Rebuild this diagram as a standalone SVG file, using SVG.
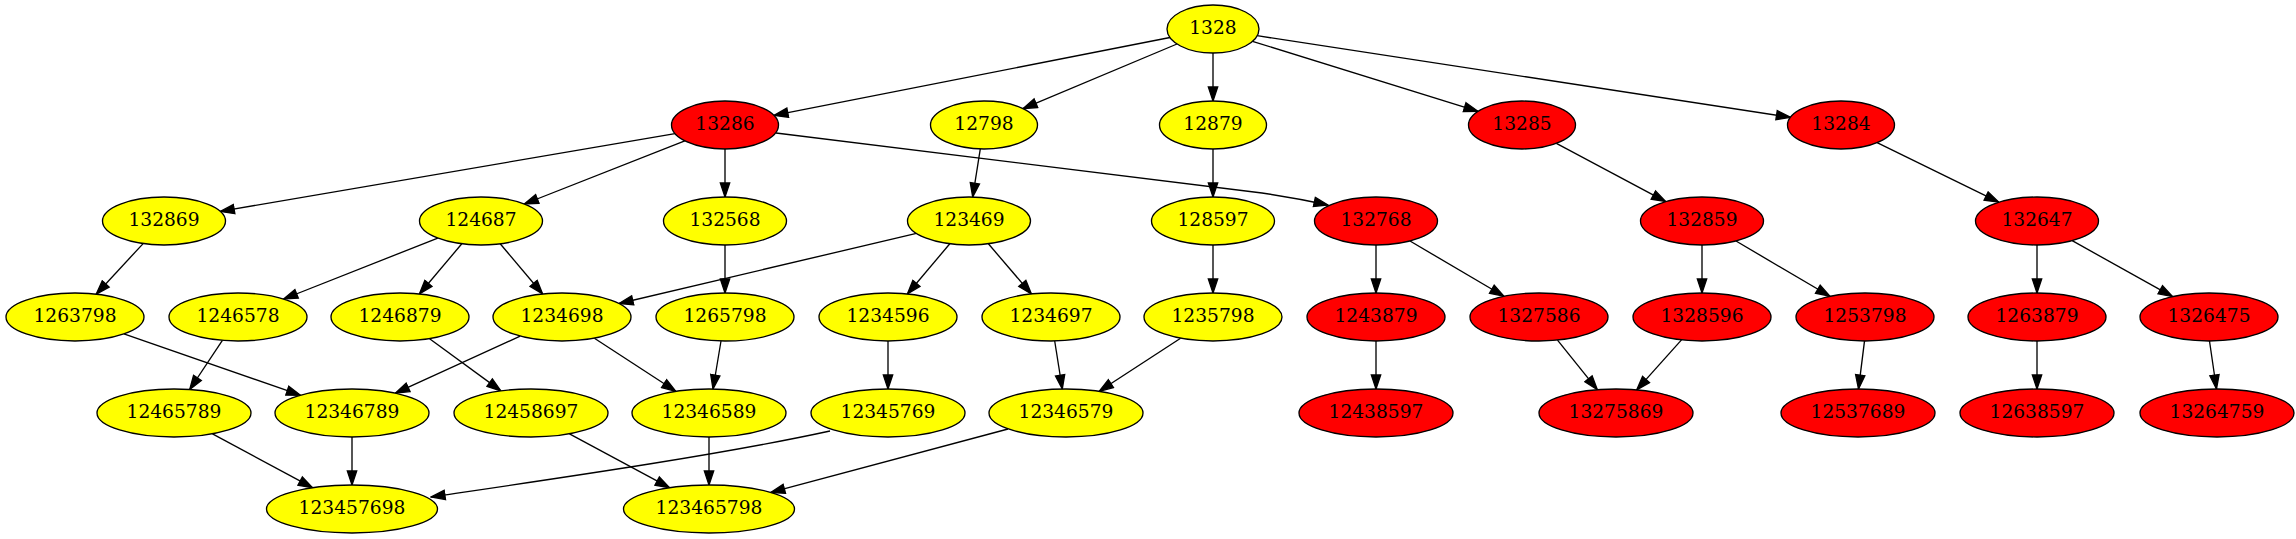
<svg xmlns="http://www.w3.org/2000/svg" width="2296" height="539" viewBox="0 0 2296 539">
<style>
.y{fill:#ffff00;stroke:#000;stroke-width:1.33}
.r{fill:#ff0000;stroke:#000;stroke-width:1.33}
text{font-family:"DejaVu Serif","Liberation Serif",serif;font-size:18.67px;text-anchor:middle;fill:#000}
.e path{fill:none;stroke:#000;stroke-width:1.33;marker-end:url(#a)}
</style>
<defs>
<marker id="a" markerUnits="userSpaceOnUse" markerWidth="16" markerHeight="12" viewBox="-1 -1 16 12" refX="14" refY="5" orient="auto">
<path d="M0,0.33 L14,5 L0,9.67 Z" fill="#000" stroke="#000" stroke-width="1.33"/>
</marker>
</defs>
<rect width="2296" height="539" fill="#fff"/>
<g class="e" id="edges">
<path d="M1170,37.5 L774,115.4"/>
<path d="M1177,44 L1023,108.6"/>
<path d="M1213,53 L1213,101"/>
<path d="M1252.5,41.3 L1478,111.3"/>
<path d="M1257,35.7 L1790.4,117.3"/>
<path d="M675,133.6 L220.3,211.4"/>
<path d="M684.8,140.8 L524.3,204"/>
<path d="M725,149 L725,197"/>
<path d="M776,133 L1262,193 Q1296,198 1328,205"/>
<path d="M980.3,148.9 L972.7,197"/>
<path d="M1213,149 L1213,197"/>
<path d="M1556.4,143.3 L1665.7,201.6"/>
<path d="M1877.1,142.7 L1998.7,202.2"/>
<path d="M143.1,243.6 L96.2,294.2"/>
<path d="M437.8,238.1 L283.6,299"/>
<path d="M461.8,243.8 L419.4,294"/>
<path d="M500.2,243.8 L542.6,294"/>
<path d="M725,245 L725,293"/>
<path d="M916.4,233.4 L619.1,303.5"/>
<path d="M949.8,243.8 L907.4,294"/>
<path d="M988.4,243.8 L1031.4,294"/>
<path d="M1213,245 L1213,293"/>
<path d="M1376,245 L1376,293"/>
<path d="M1410,241 L1503.9,296.3"/>
<path d="M1702,245 L1702,293"/>
<path d="M1736,241 L1829.9,296.3"/>
<path d="M2037,245 L2037,293"/>
<path d="M2072.2,240.7 L2172.5,296.6"/>
<path d="M123.9,333.9 L300.5,395.2"/>
<path d="M222.4,340.4 L189.7,389.5"/>
<path d="M429.6,338.7 L500.9,390.9"/>
<path d="M520.2,336.1 L395.4,393.2"/>
<path d="M594.4,338.2 L675.8,391.3"/>
<path d="M721,341 L713,389"/>
<path d="M888,341 L888,389"/>
<path d="M1054.7,341 L1062.3,389"/>
<path d="M1180.6,338.2 L1099.2,391.3"/>
<path d="M1376,341 L1376,389"/>
<path d="M1557.5,340.1 L1597.3,389.7"/>
<path d="M1681.5,339.9 L1636.7,389.9"/>
<path d="M1864.5,341 L1858.5,389"/>
<path d="M2037,341 L2037,389"/>
<path d="M2209.5,341 L2216.5,389"/>
<path d="M212.5,433.8 L312.5,487.7"/>
<path d="M352,437 L352,485"/>
<path d="M830,431 C720,455 560,478 431,497"/>
<path d="M569.5,433.8 L669.5,487.7"/>
<path d="M709,437 L709,485"/>
<path d="M1008,429 L770.8,492.4"/>
</g>
<g id="n1328"><ellipse class="y" cx="1213" cy="29" rx="46" ry="24"/><text x="1213" y="34">1328</text></g>
<g id="n13286"><ellipse class="r" cx="725" cy="125" rx="53.5" ry="24"/><text x="725" y="130">13286</text></g>
<g id="n12798"><ellipse class="y" cx="984" cy="125" rx="53.5" ry="24"/><text x="984" y="130">12798</text></g>
<g id="n12879"><ellipse class="y" cx="1213" cy="125" rx="53.5" ry="24"/><text x="1213" y="130">12879</text></g>
<g id="n13285"><ellipse class="r" cx="1522" cy="125" rx="53.5" ry="24"/><text x="1522" y="130">13285</text></g>
<g id="n13284"><ellipse class="r" cx="1841" cy="125" rx="53.5" ry="24"/><text x="1841" y="130">13284</text></g>
<g id="n132869"><ellipse class="y" cx="164" cy="221" rx="61.5" ry="24"/><text x="164" y="226">132869</text></g>
<g id="n124687"><ellipse class="y" cx="481" cy="221" rx="61.5" ry="24"/><text x="481" y="226">124687</text></g>
<g id="n132568"><ellipse class="y" cx="725" cy="221" rx="61.5" ry="24"/><text x="725" y="226">132568</text></g>
<g id="n123469"><ellipse class="y" cx="969" cy="221" rx="61.5" ry="24"/><text x="969" y="226">123469</text></g>
<g id="n128597"><ellipse class="y" cx="1213" cy="221" rx="61.5" ry="24"/><text x="1213" y="226">128597</text></g>
<g id="n132768"><ellipse class="r" cx="1376" cy="221" rx="61.5" ry="24"/><text x="1376" y="226">132768</text></g>
<g id="n132859"><ellipse class="r" cx="1702" cy="221" rx="61.5" ry="24"/><text x="1702" y="226">132859</text></g>
<g id="n132647"><ellipse class="r" cx="2037" cy="221" rx="61.5" ry="24"/><text x="2037" y="226">132647</text></g>
<g id="n1263798"><ellipse class="y" cx="75" cy="317" rx="69" ry="24"/><text x="75" y="322">1263798</text></g>
<g id="n1246578"><ellipse class="y" cx="238" cy="317" rx="69" ry="24"/><text x="238" y="322">1246578</text></g>
<g id="n1246879"><ellipse class="y" cx="400" cy="317" rx="69" ry="24"/><text x="400" y="322">1246879</text></g>
<g id="n1234698"><ellipse class="y" cx="562" cy="317" rx="69" ry="24"/><text x="562" y="322">1234698</text></g>
<g id="n1265798"><ellipse class="y" cx="725" cy="317" rx="69" ry="24"/><text x="725" y="322">1265798</text></g>
<g id="n1234596"><ellipse class="y" cx="888" cy="317" rx="69" ry="24"/><text x="888" y="322">1234596</text></g>
<g id="n1234697"><ellipse class="y" cx="1051" cy="317" rx="69" ry="24"/><text x="1051" y="322">1234697</text></g>
<g id="n1235798"><ellipse class="y" cx="1213" cy="317" rx="69" ry="24"/><text x="1213" y="322">1235798</text></g>
<g id="n1243879"><ellipse class="r" cx="1376" cy="317" rx="69" ry="24"/><text x="1376" y="322">1243879</text></g>
<g id="n1327586"><ellipse class="r" cx="1539" cy="317" rx="69" ry="24"/><text x="1539" y="322">1327586</text></g>
<g id="n1328596"><ellipse class="r" cx="1702" cy="317" rx="69" ry="24"/><text x="1702" y="322">1328596</text></g>
<g id="n1253798"><ellipse class="r" cx="1865" cy="317" rx="69" ry="24"/><text x="1865" y="322">1253798</text></g>
<g id="n1263879"><ellipse class="r" cx="2037" cy="317" rx="69" ry="24"/><text x="2037" y="322">1263879</text></g>
<g id="n1326475"><ellipse class="r" cx="2209" cy="317" rx="69" ry="24"/><text x="2209" y="322">1326475</text></g>
<g id="n12465789"><ellipse class="y" cx="174" cy="413" rx="77" ry="24"/><text x="174" y="418">12465789</text></g>
<g id="n12346789"><ellipse class="y" cx="352" cy="413" rx="77" ry="24"/><text x="352" y="418">12346789</text></g>
<g id="n12458697"><ellipse class="y" cx="531" cy="413" rx="77" ry="24"/><text x="531" y="418">12458697</text></g>
<g id="n12346589"><ellipse class="y" cx="709" cy="413" rx="77" ry="24"/><text x="709" y="418">12346589</text></g>
<g id="n12345769"><ellipse class="y" cx="888" cy="413" rx="77" ry="24"/><text x="888" y="418">12345769</text></g>
<g id="n12346579"><ellipse class="y" cx="1066" cy="413" rx="77" ry="24"/><text x="1066" y="418">12346579</text></g>
<g id="n12438597"><ellipse class="r" cx="1376" cy="413" rx="77" ry="24"/><text x="1376" y="418">12438597</text></g>
<g id="n13275869"><ellipse class="r" cx="1616" cy="413" rx="77" ry="24"/><text x="1616" y="418">13275869</text></g>
<g id="n12537689"><ellipse class="r" cx="1858" cy="413" rx="77" ry="24"/><text x="1858" y="418">12537689</text></g>
<g id="n12638597"><ellipse class="r" cx="2037" cy="413" rx="77" ry="24"/><text x="2037" y="418">12638597</text></g>
<g id="n13264759"><ellipse class="r" cx="2217" cy="413" rx="77" ry="24"/><text x="2217" y="418">13264759</text></g>
<g id="n123457698"><ellipse class="y" cx="352" cy="509" rx="85.5" ry="24"/><text x="352" y="514">123457698</text></g>
<g id="n123465798"><ellipse class="y" cx="709" cy="509" rx="85.5" ry="24"/><text x="709" y="514">123465798</text></g>
</svg>
